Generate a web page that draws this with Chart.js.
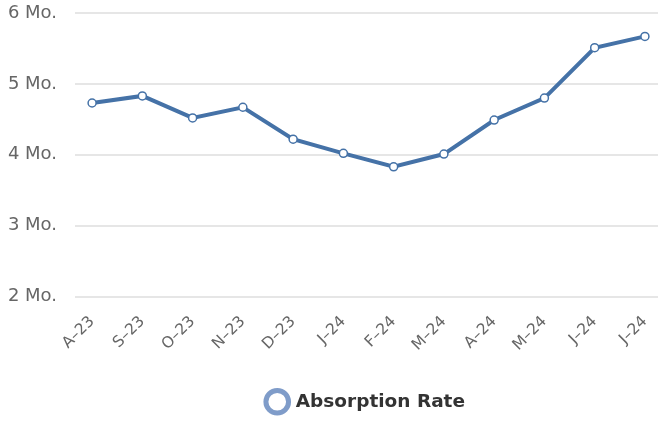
<!DOCTYPE html>
<html>
<head>
<meta charset="utf-8">
<script src="https://cdn.jsdelivr.net/npm/chart.js@4/dist/chart.umd.min.js"></script>
<style>
  html, body { margin: 0; padding: 0; background: #fff; }
</style>
</head>
<body>
<canvas id="absorptionChart" width="658" height="421"></canvas>
<script>
// month labels along the bottom
const months = ['A–23', 'S–23', 'O–23', 'N–23', 'D–23', 'J–24', 'F–24', 'M–24', 'A–24', 'M–24', 'J–24', 'J–24'];
// absorption rate, in months
const absorptionRate = [4.73, 4.83, 4.52, 4.67, 4.22, 4.02, 3.83, 4.01, 4.49, 4.80, 5.51, 5.67];
const seriesName = 'Absorption Rate';
const yTicks = [2, 3, 4, 5, 6];

const ctx = document.getElementById('absorptionChart');

new Chart(ctx, {
    type: 'line',
    data: {
        datasets: [{
            label: seriesName,
            data: absorptionRate.map((v, i) => ({ x: i, y: v })),
            borderColor: '#4572A7',
            borderWidth: 4,
            tension: 0,
            pointRadius: 4,
            pointBorderWidth: 1.5,
            pointBackgroundColor: '#ffffff',
            pointBorderColor: '#4572A7'
        }]
    },
    options: {
        responsive: false,
        animation: false,
        layout: {
            autoPadding: false,
            padding: { top: 13, left: 0, right: 0, bottom: 0 }
        },
        scales: {
            x: {
                type: 'linear',
                min: -0.34,
                max: 11.26,
                grid: { display: false },
                border: { display: false },
                ticks: {
                    stepSize: 1,
                    includeBounds: false,
                    autoSkip: false,
                    minRotation: 45,
                    maxRotation: 45,
                    padding: 8,
                    color: '#666666',
                    font: { family: 'DejaVu Sans', size: 15.5 },
                    callback: (v) => months[v] !== undefined ? months[v] : ''
                },
                afterFit: (scale) => {
                    scale.height = 86;
                    scale.paddingLeft = 0;
                    scale.paddingRight = 0;
                }
            },
            y: {
                min: yTicks[0],
                max: yTicks[yTicks.length - 1],
                grid: { color: '#e6e6e6', lineWidth: 2, drawTicks: false },
                border: { display: false },
                ticks: {
                    stepSize: 1,
                    padding: 18,
                    color: '#666666',
                    font: { family: 'DejaVu Sans', size: 18 },
                    callback: (v) => v + ' Mo.'
                },
                afterFit: (scale) => {
                    scale.width = 75;
                    scale.paddingTop = 0;
                    scale.paddingBottom = 0;
                }
            }
        },
        plugins: {
            tooltip: { enabled: false },
            legend: {
                position: 'bottom',
                fullSize: false,
                labels: {
                    usePointStyle: true,
                    boxHeight: 16,
                    padding: 10,
                    color: '#333333',
                    font: { family: 'DejaVu Sans', size: 18.5, weight: 'bold', lineHeight: 1.0 },
                    generateLabels: (chart) => [{
                        text: seriesName,
                        fillStyle: '#ffffff',
                        strokeStyle: '#7f9cc9',
                        lineWidth: 5,
                        pointStyle: 'circle',
                        fontColor: '#333333',
                        datasetIndex: 0
                    }]
                }
            }
        }
    }
});
</script>
</body>
</html>
